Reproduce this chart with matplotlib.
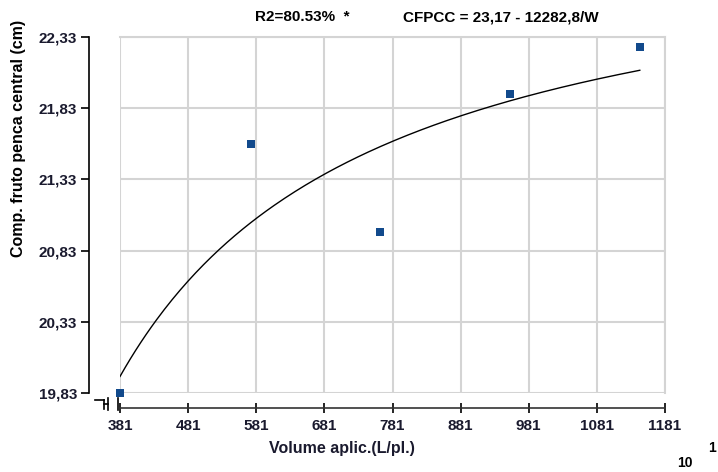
import numpy as np
import matplotlib.pyplot as plt
from matplotlib.lines import Line2D

plt.rcParams['font.family'] = ['Liberation Sans', 'DejaVu Sans']
plt.rcParams['font.weight'] = 'bold'

# Data
volume = [381, 574, 763, 954, 1144]          # L/pl.
comp   = [19.83, 21.58, 20.96, 21.93, 22.26]  # cm

# Fitted model shown in the header: CFPCC = a - b/W (W in units of 10 L/pl.)
a_coef, b_coef, w_scale = 23.17, 12282.8, 10
x_ticks = [381, 481, 581, 681, 781, 881, 981, 1081, 1181]
y_ticks = [19.83, 20.33, 20.83, 21.33, 21.83, 22.33]
y_labels = ['19,83', '20,33', '20,83', '21,33', '21,83', '22,33']

W, H = 718, 472
fig = plt.figure(figsize=(W/100, H/100), dpi=100)
ax = fig.add_axes([120/W, 1-393/H, 545/W, 356/H])

w = np.linspace(volume[0], volume[-1], 200)
ax.plot(w, a_coef - b_coef/(w*w_scale), color='black', lw=1)
ax.scatter(volume, comp, marker='s', s=28, color='#124a8c', zorder=3,
           linewidths=0, clip_on=False)

ax.set_xlim(381, 1181)
ax.set_ylim(19.83, 22.33)
ax.set_xticks(x_ticks)
ax.set_yticks(y_ticks)
ax.set_yticklabels(y_labels)
ax.grid(True, color='#d4d4d4', lw=1.5)

for s in ['top', 'right']:
    ax.spines[s].set_color('#d4d4d4')
    ax.spines[s].set_linewidth(1.5)
ax.spines['left'].set_position(('outward', 22))
ax.spines['bottom'].set_position(('outward', 11))
ax.spines['left'].set_linewidth(1.2)
ax.spines['bottom'].set_linewidth(1.2)
ax.spines['bottom'].set_color('#333333')

ax.tick_params(axis='y', direction='out', length=6, width=1.2, labelsize=11, pad=3)
ax.tick_params(axis='x', direction='inout', length=7, width=1.2, labelsize=11, pad=4)
for t in ax.get_xticklabels() + ax.get_yticklabels():
    t.set_fontweight('bold')
    t.set_color('#1a1a2e')

# axis break marks
def px(x, y):
    return (x/W, 1-y/H)
for seg in [((95, 400), (104, 400)), ((104, 400), (104, 409)),
            ((108, 398), (108, 410)), ((118, 398), (118, 410)),
            ((108, 404), (104, 404))]:
    (x0, y0), (x1, y1) = px(*seg[0]), px(*seg[1])
    fig.add_artist(Line2D([x0, x1], [y0, y1], color='black', lw=1.2))

fig.text(19/W, 1-138/H, 'Comp. fruto penca central (cm)', rotation=90,
         ha='center', va='center', fontsize=11.5, fontweight='bold')
fig.text(342/W, 1-449/H, 'Volume aplic.(L/pl.)', ha='center', va='center',
         fontsize=11.5, fontweight='bold', color='#1a1a2e')
fig.text(255/W, 1-17/H, 'R2=80.53%  *', ha='left', va='center',
         fontsize=11, fontweight='bold')
fig.text(403/W, 1-17/H, 'CFPCC = 23,17 - 12282,8/W', ha='left', va='center',
         fontsize=11, fontweight='bold')
fig.text(685/W, 1-463/H, '10', ha='center', va='center', fontsize=10, fontweight='bold')
fig.text(712/W, 1-448/H, '1', ha='center', va='center', fontsize=10, fontweight='bold')

fig.savefig('out.png', dpi=100)
